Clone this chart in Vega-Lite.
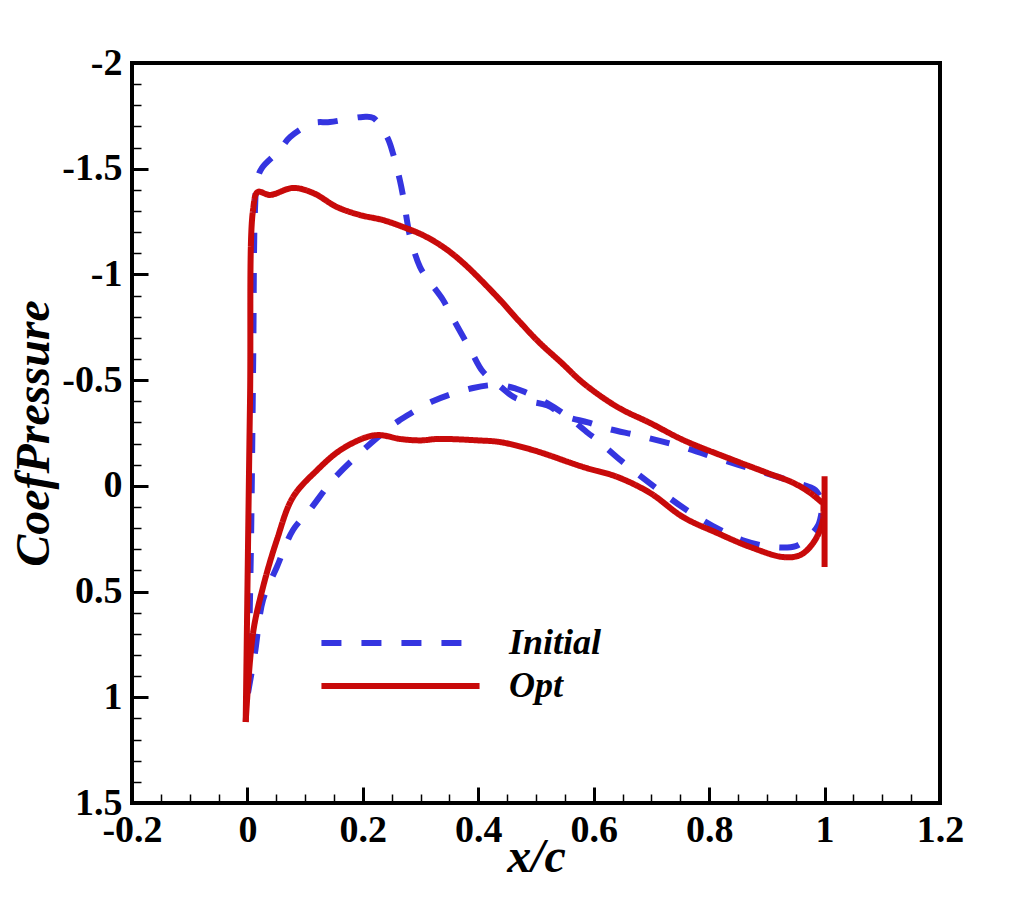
{
  "$schema": "https://vega.github.io/schema/vega-lite/v6.json",
  "autosize": "none",
  "width": 808,
  "height": 740,
  "padding": {"left": 132, "top": 63, "right": 72, "bottom": 100},
  "background": "white",
  "data": {
    "values": [
      {"series": "Initial", "part": "suction", "idx": 0, "x": 0.001, "cp": 0.98},
      {"series": "Initial", "part": "suction", "idx": 1, "x": 0.006, "cp": 0.3},
      {"series": "Initial", "part": "suction", "idx": 2, "x": 0.010, "cp": -0.6},
      {"series": "Initial", "part": "suction", "idx": 3, "x": 0.013, "cp": -1.3},
      {"series": "Initial", "part": "suction", "idx": 4, "x": 0.017, "cp": -1.447},
      {"series": "Initial", "part": "suction", "idx": 5, "x": 0.025, "cp": -1.503},
      {"series": "Initial", "part": "suction", "idx": 6, "x": 0.056, "cp": -1.588},
      {"series": "Initial", "part": "suction", "idx": 7, "x": 0.074, "cp": -1.65},
      {"series": "Initial", "part": "suction", "idx": 8, "x": 0.114, "cp": -1.716},
      {"series": "Initial", "part": "suction", "idx": 9, "x": 0.143, "cp": -1.721},
      {"series": "Initial", "part": "suction", "idx": 10, "x": 0.2, "cp": -1.745},
      {"series": "Initial", "part": "suction", "idx": 11, "x": 0.218, "cp": -1.74},
      {"series": "Initial", "part": "suction", "idx": 12, "x": 0.242, "cp": -1.65},
      {"series": "Initial", "part": "suction", "idx": 13, "x": 0.252, "cp": -1.574},
      {"series": "Initial", "part": "suction", "idx": 14, "x": 0.264, "cp": -1.447},
      {"series": "Initial", "part": "suction", "idx": 15, "x": 0.27, "cp": -1.366},
      {"series": "Initial", "part": "suction", "idx": 16, "x": 0.282, "cp": -1.177},
      {"series": "Initial", "part": "suction", "idx": 17, "x": 0.299, "cp": -1.035},
      {"series": "Initial", "part": "suction", "idx": 18, "x": 0.311, "cp": -0.983},
      {"series": "Initial", "part": "suction", "idx": 19, "x": 0.339, "cp": -0.879},
      {"series": "Initial", "part": "suction", "idx": 20, "x": 0.351, "cp": -0.817},
      {"series": "Initial", "part": "suction", "idx": 21, "x": 0.374, "cp": -0.704},
      {"series": "Initial", "part": "suction", "idx": 22, "x": 0.389, "cp": -0.63},
      {"series": "Initial", "part": "suction", "idx": 23, "x": 0.408, "cp": -0.54},
      {"series": "Initial", "part": "suction", "idx": 24, "x": 0.438, "cp": -0.47},
      {"series": "Initial", "part": "suction", "idx": 25, "x": 0.465, "cp": -0.415},
      {"series": "Initial", "part": "suction", "idx": 26, "x": 0.52, "cp": -0.38},
      {"series": "Initial", "part": "suction", "idx": 27, "x": 0.55, "cp": -0.33},
      {"series": "Initial", "part": "suction", "idx": 28, "x": 0.59, "cp": -0.3},
      {"series": "Initial", "part": "suction", "idx": 29, "x": 0.625, "cp": -0.27},
      {"series": "Initial", "part": "suction", "idx": 30, "x": 0.68, "cp": -0.236},
      {"series": "Initial", "part": "suction", "idx": 31, "x": 0.753, "cp": -0.184},
      {"series": "Initial", "part": "suction", "idx": 32, "x": 0.824, "cp": -0.122},
      {"series": "Initial", "part": "suction", "idx": 33, "x": 0.897, "cp": -0.061},
      {"series": "Initial", "part": "suction", "idx": 34, "x": 0.952, "cp": -0.014},
      {"series": "Initial", "part": "suction", "idx": 35, "x": 0.984, "cp": 0.02},
      {"series": "Initial", "part": "suction", "idx": 36, "x": 0.997, "cp": 0.08},
      {"series": "Initial", "part": "pressure", "idx": 0, "x": 0.001, "cp": 0.98},
      {"series": "Initial", "part": "pressure", "idx": 1, "x": 0.013, "cp": 0.791},
      {"series": "Initial", "part": "pressure", "idx": 2, "x": 0.027, "cp": 0.54},
      {"series": "Initial", "part": "pressure", "idx": 3, "x": 0.051, "cp": 0.384},
      {"series": "Initial", "part": "pressure", "idx": 4, "x": 0.079, "cp": 0.209},
      {"series": "Initial", "part": "pressure", "idx": 5, "x": 0.108, "cp": 0.114},
      {"series": "Initial", "part": "pressure", "idx": 6, "x": 0.148, "cp": -0.028},
      {"series": "Initial", "part": "pressure", "idx": 7, "x": 0.195, "cp": -0.155},
      {"series": "Initial", "part": "pressure", "idx": 8, "x": 0.247, "cp": -0.278},
      {"series": "Initial", "part": "pressure", "idx": 9, "x": 0.264, "cp": -0.311},
      {"series": "Initial", "part": "pressure", "idx": 10, "x": 0.322, "cp": -0.401},
      {"series": "Initial", "part": "pressure", "idx": 11, "x": 0.391, "cp": -0.463},
      {"series": "Initial", "part": "pressure", "idx": 12, "x": 0.433, "cp": -0.477},
      {"series": "Initial", "part": "pressure", "idx": 13, "x": 0.465, "cp": -0.46},
      {"series": "Initial", "part": "pressure", "idx": 14, "x": 0.48, "cp": -0.445},
      {"series": "Initial", "part": "pressure", "idx": 15, "x": 0.52, "cp": -0.39},
      {"series": "Initial", "part": "pressure", "idx": 16, "x": 0.554, "cp": -0.33},
      {"series": "Initial", "part": "pressure", "idx": 17, "x": 0.59, "cp": -0.25},
      {"series": "Initial", "part": "pressure", "idx": 18, "x": 0.606, "cp": -0.217},
      {"series": "Initial", "part": "pressure", "idx": 19, "x": 0.648, "cp": -0.118},
      {"series": "Initial", "part": "pressure", "idx": 20, "x": 0.706, "cp": 0.006},
      {"series": "Initial", "part": "pressure", "idx": 21, "x": 0.767, "cp": 0.125},
      {"series": "Initial", "part": "pressure", "idx": 22, "x": 0.82, "cp": 0.21},
      {"series": "Initial", "part": "pressure", "idx": 23, "x": 0.857, "cp": 0.256},
      {"series": "Initial", "part": "pressure", "idx": 24, "x": 0.91, "cp": 0.289},
      {"series": "Initial", "part": "pressure", "idx": 25, "x": 0.95, "cp": 0.285},
      {"series": "Initial", "part": "pressure", "idx": 26, "x": 0.966, "cp": 0.256},
      {"series": "Initial", "part": "pressure", "idx": 27, "x": 0.989, "cp": 0.186},
      {"series": "Initial", "part": "pressure", "idx": 28, "x": 0.997, "cp": 0.08},
      {"series": "Opt", "part": "suction", "idx": 0, "x": -0.003, "cp": 1.117},
      {"series": "Opt", "part": "suction", "idx": 1, "x": 0.0045, "cp": -0.406},
      {"series": "Opt", "part": "suction", "idx": 2, "x": 0.0097, "cp": -1.305},
      {"series": "Opt", "part": "suction", "idx": 3, "x": 0.018, "cp": -1.39},
      {"series": "Opt", "part": "suction", "idx": 4, "x": 0.039, "cp": -1.376},
      {"series": "Opt", "part": "suction", "idx": 5, "x": 0.079, "cp": -1.409},
      {"series": "Opt", "part": "suction", "idx": 6, "x": 0.114, "cp": -1.385},
      {"series": "Opt", "part": "suction", "idx": 7, "x": 0.155, "cp": -1.319},
      {"series": "Opt", "part": "suction", "idx": 8, "x": 0.195, "cp": -1.281},
      {"series": "Opt", "part": "suction", "idx": 9, "x": 0.235, "cp": -1.257},
      {"series": "Opt", "part": "suction", "idx": 10, "x": 0.27, "cp": -1.224},
      {"series": "Opt", "part": "suction", "idx": 11, "x": 0.304, "cp": -1.186},
      {"series": "Opt", "part": "suction", "idx": 12, "x": 0.339, "cp": -1.13},
      {"series": "Opt", "part": "suction", "idx": 13, "x": 0.374, "cp": -1.054},
      {"series": "Opt", "part": "suction", "idx": 14, "x": 0.433, "cp": -0.893},
      {"series": "Opt", "part": "suction", "idx": 15, "x": 0.472, "cp": -0.775},
      {"series": "Opt", "part": "suction", "idx": 16, "x": 0.505, "cp": -0.68},
      {"series": "Opt", "part": "suction", "idx": 17, "x": 0.545, "cp": -0.58},
      {"series": "Opt", "part": "suction", "idx": 18, "x": 0.582, "cp": -0.486},
      {"series": "Opt", "part": "suction", "idx": 19, "x": 0.641, "cp": -0.373},
      {"series": "Opt", "part": "suction", "idx": 20, "x": 0.698, "cp": -0.297},
      {"series": "Opt", "part": "suction", "idx": 21, "x": 0.755, "cp": -0.217},
      {"series": "Opt", "part": "suction", "idx": 22, "x": 0.842, "cp": -0.122},
      {"series": "Opt", "part": "suction", "idx": 23, "x": 0.901, "cp": -0.061},
      {"series": "Opt", "part": "suction", "idx": 24, "x": 0.946, "cp": -0.014},
      {"series": "Opt", "part": "suction", "idx": 25, "x": 0.975, "cp": 0.033},
      {"series": "Opt", "part": "suction", "idx": 26, "x": 0.996, "cp": 0.08},
      {"series": "Opt", "part": "pressure", "idx": 0, "x": -0.003, "cp": 1.117},
      {"series": "Opt", "part": "pressure", "idx": 1, "x": 0.0097, "cp": 0.696},
      {"series": "Opt", "part": "pressure", "idx": 2, "x": 0.027, "cp": 0.479},
      {"series": "Opt", "part": "pressure", "idx": 3, "x": 0.051, "cp": 0.256},
      {"series": "Opt", "part": "pressure", "idx": 4, "x": 0.079, "cp": 0.053},
      {"series": "Opt", "part": "pressure", "idx": 5, "x": 0.121, "cp": -0.075},
      {"series": "Opt", "part": "pressure", "idx": 6, "x": 0.161, "cp": -0.169},
      {"series": "Opt", "part": "pressure", "idx": 7, "x": 0.207, "cp": -0.231},
      {"series": "Opt", "part": "pressure", "idx": 8, "x": 0.23, "cp": -0.24},
      {"series": "Opt", "part": "pressure", "idx": 9, "x": 0.264, "cp": -0.222},
      {"series": "Opt", "part": "pressure", "idx": 10, "x": 0.3, "cp": -0.215},
      {"series": "Opt", "part": "pressure", "idx": 11, "x": 0.33, "cp": -0.222},
      {"series": "Opt", "part": "pressure", "idx": 12, "x": 0.4, "cp": -0.215},
      {"series": "Opt", "part": "pressure", "idx": 13, "x": 0.438, "cp": -0.207},
      {"series": "Opt", "part": "pressure", "idx": 14, "x": 0.495, "cp": -0.169},
      {"series": "Opt", "part": "pressure", "idx": 15, "x": 0.582, "cp": -0.089},
      {"series": "Opt", "part": "pressure", "idx": 16, "x": 0.641, "cp": -0.042},
      {"series": "Opt", "part": "pressure", "idx": 17, "x": 0.698, "cp": 0.034},
      {"series": "Opt", "part": "pressure", "idx": 18, "x": 0.755, "cp": 0.148},
      {"series": "Opt", "part": "pressure", "idx": 19, "x": 0.814, "cp": 0.223},
      {"series": "Opt", "part": "pressure", "idx": 20, "x": 0.871, "cp": 0.289},
      {"series": "Opt", "part": "pressure", "idx": 21, "x": 0.929, "cp": 0.337},
      {"series": "Opt", "part": "pressure", "idx": 22, "x": 0.958, "cp": 0.327},
      {"series": "Opt", "part": "pressure", "idx": 23, "x": 0.98, "cp": 0.271},
      {"series": "Opt", "part": "pressure", "idx": 24, "x": 0.996, "cp": 0.176},
      {"series": "Opt", "part": "pressure", "idx": 25, "x": 0.998, "cp": 0.08},
      {"series": "Opt", "part": "te", "idx": 0, "x": 1.0, "cp": -0.045},
      {"series": "Opt", "part": "te", "idx": 1, "x": 1.0, "cp": 0.384}
    ]
  },
  "layer": [
    {
      "mark": {"type": "line", "strokeWidth": 6, "strokeCap": "butt", "strokeJoin": "round", "interpolate": "catmull-rom", "clip": true},
      "encoding": {
        "x": {
          "field": "x",
          "type": "quantitative",
          "title": "x/c",
          "scale": {"domain": [-0.2, 1.2], "nice": false, "zero": false},
          "axis": {
            "orient": "bottom",
            "values": [-0.2, 0, 0.2, 0.4, 0.6, 0.8, 1, 1.2],
            "labelExpr": "'' + datum.value",
            "offset": -16,
            "tickSize": 16,
            "tickWidth": 3,
            "labelPadding": 8,
            "titlePadding": -16
          }
        },
        "y": {
          "field": "cp",
          "type": "quantitative",
          "title": "CoefPressure",
          "scale": {"domain": [-2, 1.5], "nice": false, "zero": false, "reverse": true},
          "axis": {
            "orient": "left",
            "values": [-2, -1.5, -1, -0.5, 0, 0.5, 1, 1.5],
            "labelExpr": "'' + datum.value",
            "offset": -16,
            "tickSize": 16,
            "tickWidth": 3,
            "labelPadding": 10,
            "titlePadding": 3
          }
        },
        "color": {
          "field": "series",
          "type": "nominal",
          "scale": {"domain": ["Initial", "Opt"], "range": ["#3535e0", "#c80a0a"]},
          "legend": {
            "orient": "none",
            "legendX": 186,
            "legendY": 562,
            "title": null,
            "symbolType": "stroke",
            "symbolSize": 25000,
            "symbolStrokeWidth": 6,
            "clipHeight": 36,
            "labelFont": "Liberation Serif",
            "labelFontSize": 36,
            "labelFontWeight": "bold",
            "labelFontStyle": "italic",
            "labelColor": "black",
            "labelOffset": 26,
            "rowPadding": 7
          }
        },
        "strokeDash": {
          "field": "series",
          "type": "nominal",
          "scale": {"domain": ["Initial", "Opt"], "range": [[20, 20], [1, 0]]}
        },
        "detail": {"field": "part"},
        "order": {"field": "idx"}
      }
    },
    {
      "mark": {"type": "line", "strokeWidth": 6, "strokeOpacity": 0},
      "encoding": {
        "x": {
          "field": "x",
          "type": "quantitative",
          "title": null,
          "axis": {
            "orient": "bottom",
            "values": [-0.15, -0.1, -0.05, 0.05, 0.1, 0.15, 0.25, 0.3, 0.35, 0.45, 0.5, 0.55, 0.65, 0.7, 0.75, 0.85, 0.9, 0.95, 1.05, 1.1, 1.15],
            "labels": false,
            "offset": -9,
            "tickSize": 9,
            "tickWidth": 1.5
          }
        },
        "y": {
          "field": "cp",
          "type": "quantitative",
          "title": null,
          "axis": {
            "orient": "left",
            "values": [-1.9, -1.8, -1.7, -1.6, -1.4, -1.3, -1.2, -1.1, -0.9, -0.8, -0.7, -0.6, -0.4, -0.3, -0.2, -0.1, 0.1, 0.2, 0.3, 0.4, 0.6, 0.7, 0.8, 0.9, 1.1, 1.2, 1.3, 1.4],
            "labels": false,
            "offset": -9,
            "tickSize": 9,
            "tickWidth": 1.5
          }
        },
        "detail": {"field": "part"},
        "order": {"field": "idx"},
        "color": {"field": "series", "type": "nominal"},
        "strokeDash": {"field": "series", "type": "nominal"}
      }
    }
  ],
  "resolve": {"axis": {"x": "independent", "y": "independent"}},
  "config": {
    "view": {"stroke": "black", "strokeWidth": 4},
    "axis": {
      "domain": false,
      "grid": false,
      "tickColor": "black",
      "labelFont": "Liberation Serif",
      "labelFontSize": 38,
      "labelFontWeight": "bold",
      "labelColor": "black",
      "labelOverlap": false,
      "labelFlush": false,
      "titleFont": "Liberation Serif",
      "titleFontSize": 48,
      "titleFontWeight": "bold",
      "titleFontStyle": "italic",
      "titleColor": "black"
    }
  }
}
